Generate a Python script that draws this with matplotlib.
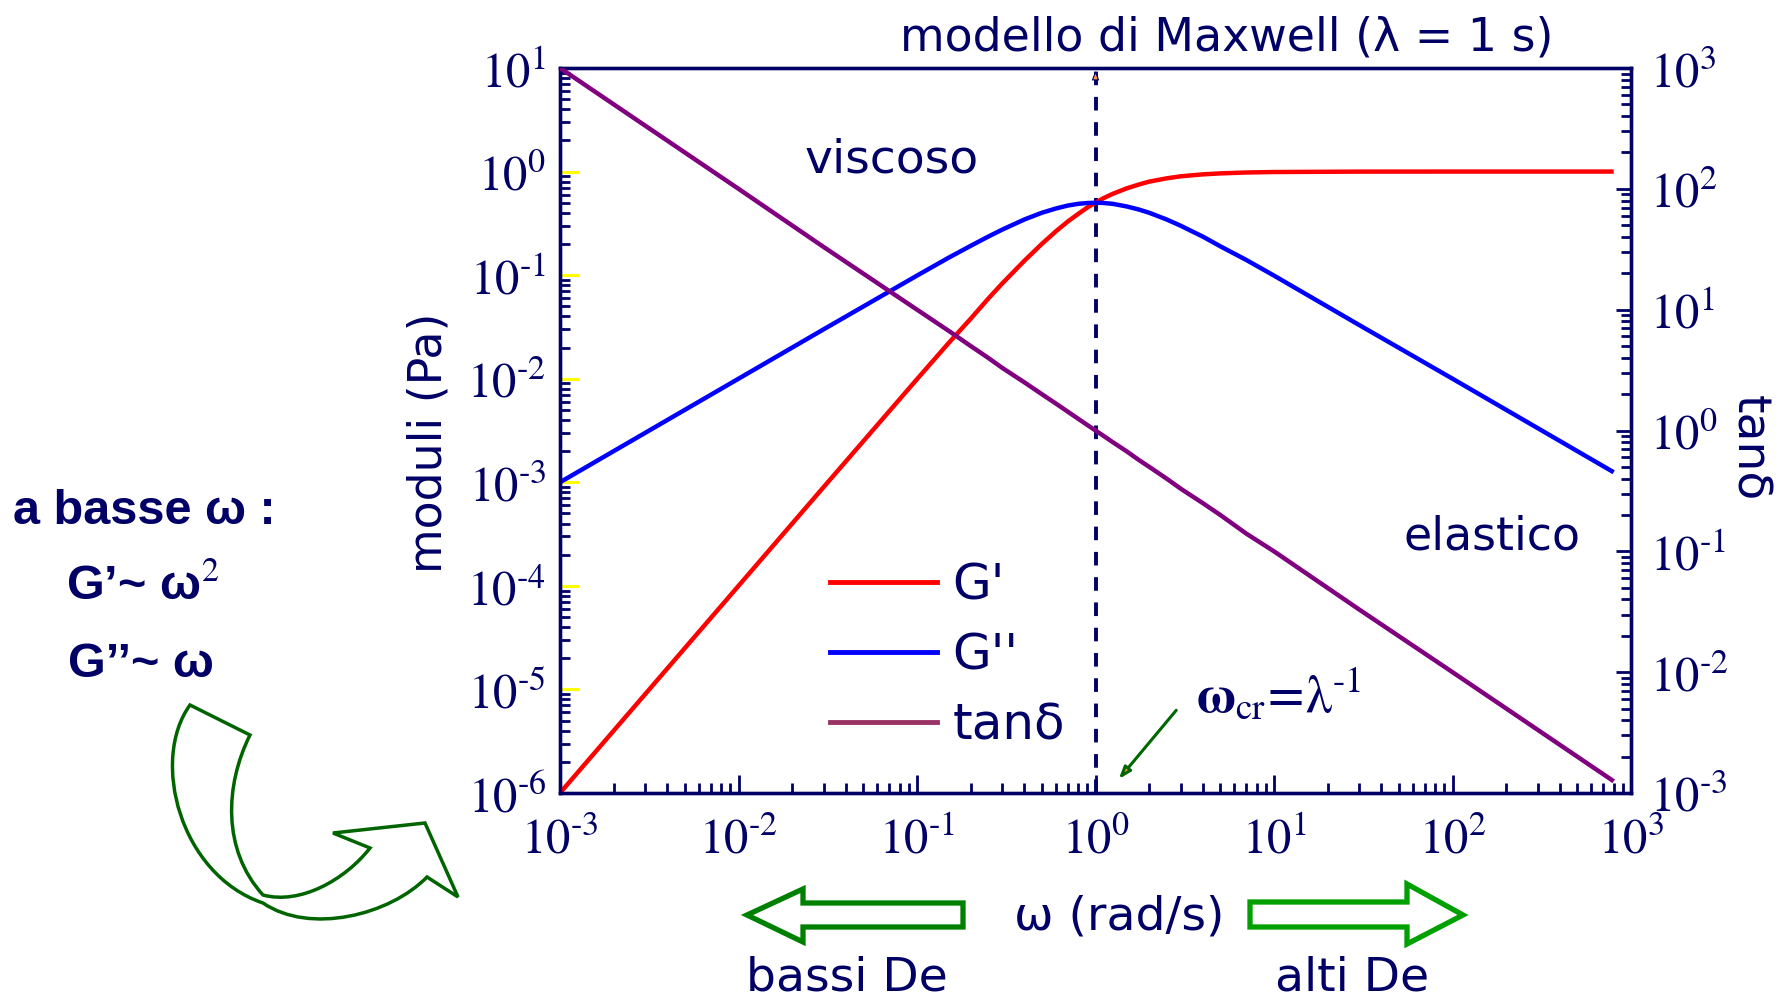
import numpy as np
import matplotlib
matplotlib.use("Agg")
import matplotlib.pyplot as plt
from matplotlib.lines import Line2D
from matplotlib.path import Path
from matplotlib.patches import PathPatch
from matplotlib.ticker import LogLocator, FuncFormatter, NullFormatter
from matplotlib.transforms import Affine2D

plt.rcParams['mathtext.fontset'] = 'stix'
plt.rcParams['font.family'] = ['DejaVu Sans']

# ---------------- data ----------------
omega = [1e-3, 1e-2, 3e-2, 0.1, 0.15, 0.2, 0.25, 0.3, 0.4, 0.5, 0.6, 0.7, 0.8, 0.9, 1.0,
         1.1, 1.25, 1.5, 1.75, 2.0, 2.5, 3.0, 4.0, 5.0, 7.0, 10.0, 30.0, 100.0, 800.0]
G_storage = [1e-6, 1e-4, 9e-4, 0.0099, 0.022, 0.038, 0.059, 0.083, 0.138, 0.2, 0.265, 0.33,
             0.39, 0.45, 0.5, 0.55, 0.61, 0.69, 0.75, 0.8, 0.86, 0.9, 0.94, 0.96, 0.98,
             0.99, 0.999, 1.0, 1.0]
G_loss = [1e-3, 0.01, 0.03, 0.099, 0.147, 0.192, 0.235, 0.275, 0.345, 0.4, 0.44, 0.47, 0.488,
          0.497, 0.5, 0.498, 0.488, 0.46, 0.43, 0.4, 0.345, 0.3, 0.235, 0.19, 0.14, 0.099,
          0.033, 0.01, 0.00125]
tan_delta = [1000, 100, 33, 10, 6.7, 5, 4, 3.3, 2.5, 2, 1.67, 1.43, 1.25, 1.11, 1, 0.91, 0.8,
             0.67, 0.57, 0.5, 0.4, 0.33, 0.25, 0.2, 0.14, 0.1, 0.033, 0.01, 0.00125]
legend_labels = ["G'", "G''", "tanδ"]
x_limits = (1e-3, 1e3)
left_limits = (1e-6, 1e1)
right_limits = (1e-3, 1e3)
omega_cr = 1.0

NAVY = '#000066'
W, H = 1782, 1000

fig = plt.figure(figsize=(W / 100, H / 100), dpi=100)
ax = fig.add_axes([560 / W, 1 - 793 / H, (1631 - 560) / W, (793 - 68) / H])
ax2 = ax.twinx()

ax.set_xscale('log'); ax.set_yscale('log'); ax2.set_yscale('log')
ax.set_xlim(*x_limits); ax.set_ylim(*left_limits); ax2.set_ylim(*right_limits)

ax.plot(omega, G_storage, color='#ff0000', lw=3.2, solid_capstyle='butt', zorder=3)
ax.plot(omega, G_loss, color='#0000ff', lw=3.2, solid_capstyle='butt', zorder=3)
ax2.plot(omega, tan_delta, color='#800080', lw=3.2, solid_capstyle='butt', zorder=3)

# dashed line at crossover
ax.axvline(omega_cr, color=NAVY, lw=2.8, ls=(0, (3.5, 3)), zorder=2)
ax.annotate('', xy=(omega_cr, left_limits[1]), xytext=(omega_cr, left_limits[1] * 0.78),
            arrowprops=dict(arrowstyle='-|>,head_length=0.55,head_width=0.22',
                            fc='#ff9933', ec=NAVY, lw=0.8), annotation_clip=False)

# formatters / locators
fmt = FuncFormatter(lambda v, p: r'$10^{\text{%d}}$' % int(round(np.log10(v))))
for axis in (ax.xaxis, ax.yaxis, ax2.yaxis):
    axis.set_major_locator(LogLocator(base=10, numticks=30))
    axis.set_minor_locator(LogLocator(base=10, subs=np.arange(2, 10), numticks=300))
    axis.set_major_formatter(fmt)
    axis.set_minor_formatter(NullFormatter())

ax.tick_params(axis='x', which='major', direction='in', length=13, width=2, color=NAVY,
               labelsize=35, labelcolor=NAVY, pad=16, top=False)
ax.tick_params(axis='x', which='minor', direction='in', length=7, width=2, color=NAVY, top=False)
ax.tick_params(axis='y', which='major', direction='in', length=14, width=2.2, color='#ffff00',
               labelsize=35, labelcolor=NAVY, pad=10, right=False)
ax.tick_params(axis='y', which='minor', direction='in', length=7, width=2, color=NAVY, right=False)
ax2.tick_params(axis='y', which='major', direction='in', length=11, width=2, color=NAVY,
                labelsize=35, labelcolor=NAVY, pad=14)
ax2.tick_params(axis='y', which='minor', direction='in', length=7, width=2, color=NAVY)

for a in (ax, ax2):
    for s in a.spines.values():
        s.set_color(NAVY)
        s.set_linewidth(2.4)

ax.set_ylabel('moduli (Pa)', fontsize=33, color=NAVY)
ax.yaxis.set_label_coords(-0.101, 0.483)

# legend
handles = [Line2D([], [], color='#ff0000', lw=3.5),
           Line2D([], [], color='#0000ff', lw=3.5),
           Line2D([], [], color='#993366', lw=3.5)]
ax.legend(handles, legend_labels, loc='upper left', bbox_to_anchor=(0.252, 0.32),
          frameon=False, prop={'size': 36}, labelcolor=NAVY, handlelength=2.15,
          handletextpad=0.3, labelspacing=0.44, borderpad=0, borderaxespad=0)

# annotation arrow to omega_cr
ax.annotate('', xy=(1.32, 1.3e-6), xytext=(2.9, 6.6e-6),
            arrowprops=dict(arrowstyle='-|>,head_length=0.7,head_width=0.25',
                            fc='#ff9933', ec='#006600', lw=2.2))

# ---------------- figure texts (pixel positions) ----------------
def P(x, y):
    return (x / W, 1 - y / H)

fig.text(*P(1227, 38), 'modello di Maxwell (λ = 1 s)', ha='center', va='center',
         fontsize=33, color=NAVY)
fig.text(*P(892, 160), 'viscoso', ha='center', va='center', fontsize=34, color=NAVY)
fig.text(*P(1492, 537), 'elastico', ha='center', va='center', fontsize=33, color=NAVY)
fig.text(*P(1196, 712), r'$\mathbf{\omega}_{\rm cr}\!=\!\mathrm{\lambda}^{\text{-1}}$',
         ha='left', va='baseline', fontsize=38, color=NAVY)
fig.text(*P(1119, 917), 'ω (rad/s)', ha='center', va='center', fontsize=34, color=NAVY)
fig.text(*P(847, 978), 'bassi De', ha='center', va='center', fontsize=34, color=NAVY)
fig.text(*P(1352, 978), 'alti De', ha='center', va='center', fontsize=34, color=NAVY)
fig.text(*P(1749, 448), 'tanδ', ha='center', va='center', rotation=270, fontsize=34, color=NAVY)

bold = dict(family='Liberation Sans', weight='bold', color=NAVY, fontsize=35)
fig.text(*P(13, 524), 'a basse ω :', ha='left', va='baseline', **bold)
fig.text(*P(66, 600), 'G’~ ω$^{2}$', ha='left', va='baseline', **bold)
fig.text(*P(68, 677), 'G’’~ ω', ha='left', va='baseline', **bold)

# ---------------- decorative green arrows ----------------
pix = Affine2D().scale(1 / W, -1 / H).translate(0, 1) + fig.transFigure

M, L, C, Z = Path.MOVETO, Path.LINETO, Path.CURVE4, Path.CLOSEPOLY
curve_verts = [(190, 705), (250, 735),
               (225, 785), (222, 850), (263, 895),
               (300, 905), (345, 880), (370, 848),
               (333, 833), (425, 823), (458, 897), (427, 877),
               (390, 915), (310, 935), (263, 903),
               (180, 875), (150, 760), (190, 705),
               (190, 705)]
curve_codes = [M, L, C, C, C, C, C, C, L, L, L, L, C, C, C, C, C, C, Z]
fig.add_artist(PathPatch(Path(curve_verts, curve_codes), fill=False, ec='#006400',
                         lw=2.5, transform=pix))

left_arrow = [(747, 915), (803, 889), (803, 903), (963, 903), (963, 927), (803, 927), (803, 942), (747, 915)]
right_arrow = [(1463, 915), (1407, 884), (1407, 902), (1250, 902), (1250, 927), (1407, 927), (1407, 944), (1463, 915)]
for pts, col in ((left_arrow, '#008000'), (right_arrow, '#00a000')):
    codes = [M] + [L] * (len(pts) - 2) + [Z]
    fig.add_artist(PathPatch(Path(pts, codes), fill=False, ec=col, lw=3.8,
                             joinstyle='miter', transform=pix))

fig.savefig('out.png', dpi=100)
